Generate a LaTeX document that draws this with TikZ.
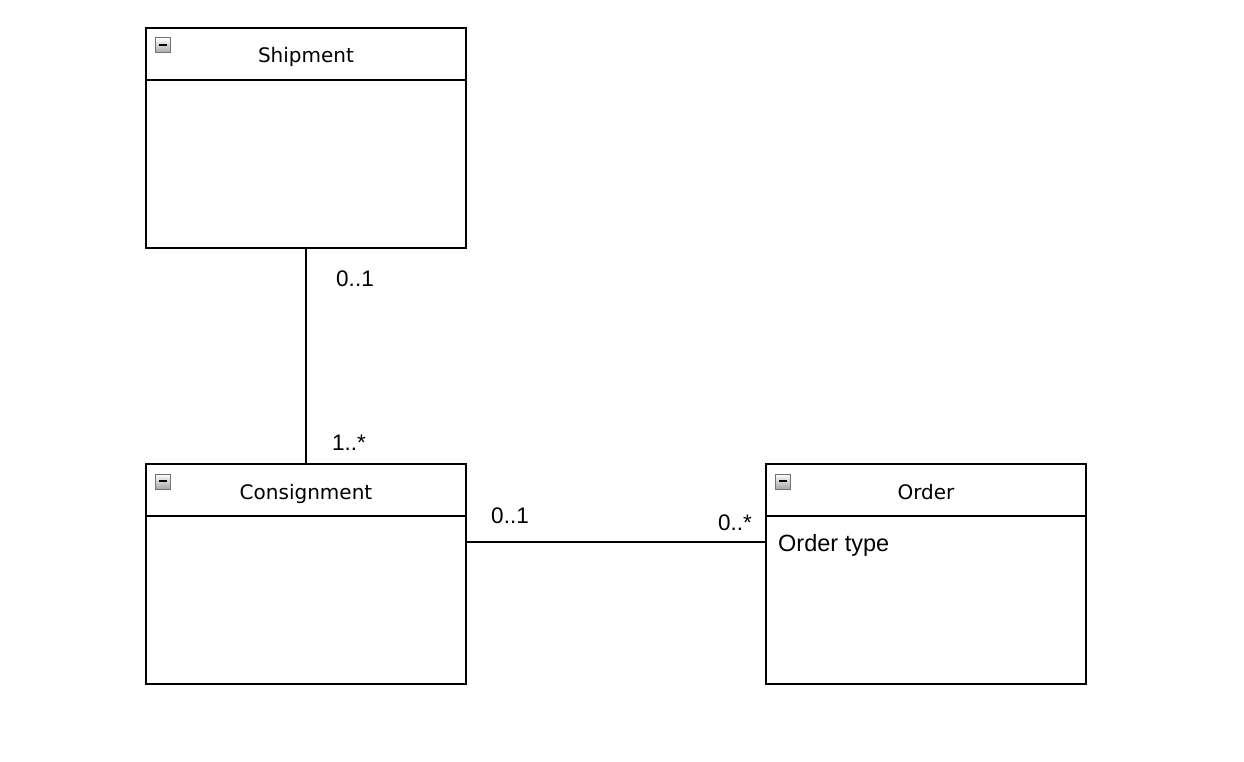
\documentclass[tikz,border=0pt]{standalone}
\usepackage{fontspec}
\setmainfont{Liberation Sans}
\newfontfamily\titlefont{DejaVu Sans}
\begin{document}
\begin{tikzpicture}[x=1pt,y=-1pt,
  box/.style={draw=black,line width=1.6pt,fill=white},
  conn/.style={draw=black,line width=1.6pt},
  ttl/.style={font=\titlefont\fontsize{20}{24}\selectfont,inner sep=0pt,anchor=base},
  mult/.style={font=\fontsize{22.5}{26}\selectfont,inner sep=0pt},
  attr/.style={font=\fontsize{23.5}{27}\selectfont,inner sep=0pt,anchor=west},
  iconbox/.style={draw=black!55,line width=1pt,top color=white,bottom color=black!35},
  iconminus/.style={draw=black,line width=2.2pt}]
\useasboundingbox (0,0) rectangle (1244,762);
\fill[white] (0,0) rectangle (1244,762);
% classes
\newcommand{\umlclass}[4]{%
  \draw[box] (#2,#3) rectangle ++(320,220);
  \draw[conn] (#2,#3+52) -- ++(320,0);
  \coordinate (#1-nw) at (#2,#3);
  \coordinate (#1-se) at (#2+320,#3+220);
  \node[ttl] (#1-title) at (#2+160,#3+35) {#4};
  \draw[iconbox] (#2+9,#3+10) rectangle ++(15,15);
  \draw[iconminus] (#2+12.5,#3+17) -- ++(8,0);
}
\umlclass{ship}{146}{28}{Shipment}
\umlclass{cons}{146}{464}{Consignment}
\umlclass{ord}{766}{464}{Order}
\coordinate (shipB) at (306,248);
\coordinate (consT) at (306,464);
\coordinate (consR) at (466,542);
\coordinate (ordL) at (766,542);
\draw[conn] (shipB) -- (consT);
\draw[conn] (consR) -- (ordL);
\node[mult] (m1) at (355,279) {0..1};
\node[mult] (m2) at (349,443) {1..*};
\node[mult] (m3) at (510,516) {0..1};
\node[mult] (m4) at (735,523) {0..*};
\node[attr] (a1) at (778,545) {Order type};
\end{tikzpicture}
\end{document}
